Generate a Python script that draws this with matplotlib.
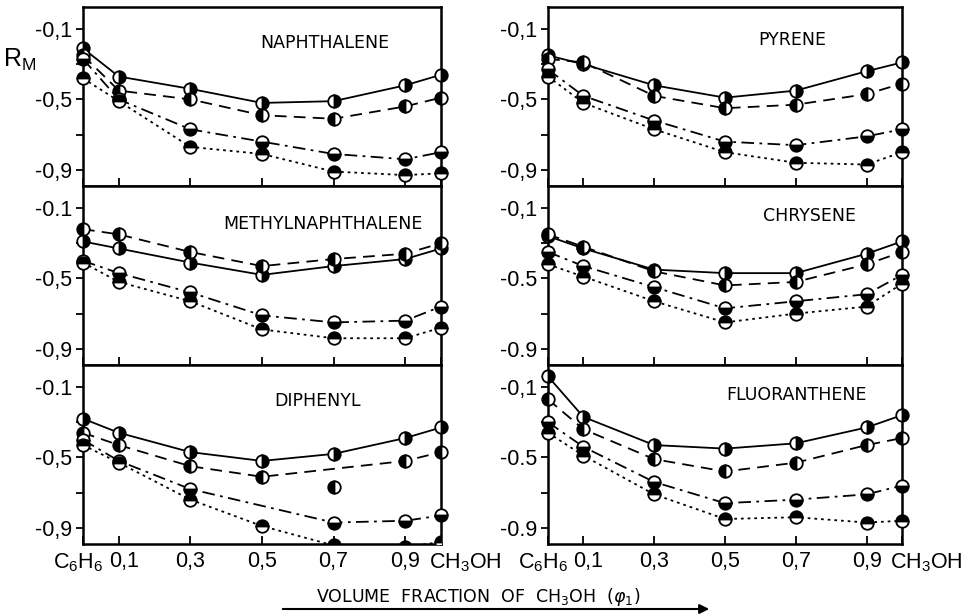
import numpy as np
import matplotlib.pyplot as plt
from matplotlib.patches import FancyArrowPatch
from matplotlib.transforms import ScaledTranslation

# volume fraction of CH3OH (x positions of the data points)
phi = [0.0, 0.1, 0.3, 0.5, 0.7, 0.9, 1.0]
x_labels = [r'$\mathregular{C_6H_6}$', '0,1', '0,3', '0,5', '0,7', '0,9',
            r'$\mathregular{CH_3OH}$']

# R_M values
# rows: solid, dashed, dash-dot, dotted curve
naphthalene = [[-0.21, -0.37, -0.44, -0.52, -0.51, -0.42, -0.36],
               [-0.25, -0.45, -0.50, -0.59, -0.61, -0.54, -0.49],
               [-0.27, -0.50, -0.67, -0.74, -0.81, -0.84, -0.80],
               [-0.38, -0.51, -0.77, -0.81, -0.91, -0.93, -0.92]]
methylnaphthalene = [[-0.29, -0.33, -0.41, -0.48, -0.43, -0.39, -0.33],
                     [-0.22, -0.25, -0.35, -0.43, -0.39, -0.36, -0.30],
                     [-0.40, -0.47, -0.58, -0.71, -0.75, -0.74, -0.66],
                     [-0.41, -0.52, -0.63, -0.79, -0.84, -0.84, -0.78]]
diphenyl = [[-0.28, -0.36, -0.47, -0.52, -0.48, -0.39, -0.33],
            [-0.36, -0.43, -0.55, -0.61, -0.67, -0.52, -0.47],
            [-0.40, -0.52, -0.68, np.nan, -0.87, -0.86, -0.83],
            [-0.43, -0.53, -0.74, -0.89, -1.00, -1.01, -0.98]]
pyrene = [[-0.25, -0.30, -0.42, -0.49, -0.45, -0.34, -0.29],
          [-0.27, -0.29, -0.48, -0.55, -0.53, -0.47, -0.41],
          [-0.33, -0.48, -0.62, -0.74, -0.76, -0.71, -0.67],
          [-0.37, -0.52, -0.67, -0.80, -0.86, -0.87, -0.80]]
chrysene = [[-0.26, -0.33, -0.45, -0.47, -0.47, -0.36, -0.29],
            [-0.25, -0.32, -0.46, -0.54, -0.52, -0.42, -0.35],
            [-0.35, -0.43, -0.55, -0.67, -0.63, -0.59, -0.48],
            [-0.42, -0.49, -0.63, -0.75, -0.70, -0.66, -0.53]]
fluoranthene = [[-0.04, -0.27, -0.43, -0.45, -0.42, -0.33, -0.26],
                [-0.17, -0.34, -0.51, -0.58, -0.53, -0.43, -0.39],
                [-0.30, -0.44, -0.64, -0.76, -0.74, -0.71, -0.66],
                [-0.36, -0.49, -0.71, -0.85, -0.84, -0.87, -0.86]]

# points that lie off their drawn curve (panel, curve, index)
off_curve = [('DIPHENYL', 1, 4)]

# y tick labels as printed in each panel
yt_naph = ['-0,1', '-0,5', '-0,9']
yt_meth = ['-0.1', '-0,5', '-0,9']
yt_diph = ['-0.1', '-0,5', '-0,9']
yt_pyr = ['-0,1', '-0,5', '-0,9']
yt_chry = ['-0,1', '-0.5', '-0.9']
yt_fluo = ['-0,1', '-0.5', '-0.9']

#%%
W, H = 973, 616
fig = plt.figure(figsize=(W / 100, H / 100), dpi=100)
tick_font = ['Liberation Sans', 'DejaVu Sans']

styles = [dict(ls='-'), dict(dashes=(6.5, 4)), dict(dashes=(7, 3, 1.5, 3)),
          dict(dashes=(1.5, 2.2))]
fills = ['right', 'left', 'bottom', 'top']

# panel layout in pixels: (name, data, ylabels, left, width, top, title x, title y)
panels = [('NAPHTHALENE', naphthalene, yt_naph, 83, 358, 7, 0.676, 0.80),
          ('METHYLNAPHTHALENE', methylnaphthalene, yt_meth, 83, 358, 186, 0.670, 0.79),
          ('DIPHENYL', diphenyl, yt_diph, 83, 358, 365, 0.654, 0.80),
          ('PYRENE', pyrene, yt_pyr, 548, 354, 7, 0.689, 0.815),
          ('CHRYSENE', chrysene, yt_chry, 548, 354, 186, 0.740, 0.835),
          ('FLUORANTHENE', fluoranthene, yt_fluo, 548, 354, 365, 0.703, 0.83)]
ph = 179
ylo, yhi = -0.992, 0.025

x = np.array(phi)
for name, data, ylab, left, width, top, tx, ty in panels:
    ax = fig.add_axes([left / W, 1 - (top + ph) / H, width / W, ph / H])
    for k, vals in enumerate(data):
        y = np.array(vals, dtype=float)
        keep = ~np.isnan(y)
        for pn, ci, idx in off_curve:
            if pn == name and ci == k:
                keep[idx] = False
        ax.plot(x[keep], y[keep], color='black', lw=1.3, **styles[k])
        # points sitting on the bottom frame are cut by it, the rest overhang the frame
        low = y < ylo + 0.05
        for sel, clip in ((~low, False), (low, True)):
            ax.plot(x[sel], y[sel], ls='none', marker='o', ms=9, fillstyle=fills[k],
                    markerfacecolor='black', markerfacecoloralt='white',
                    markeredgecolor='black', mew=1.3, clip_on=clip, zorder=3)
    ax.set_xlim(0, 1)
    ax.set_ylim(ylo, yhi)
    for s in ax.spines.values():
        s.set_linewidth(1.8)
    ax.set_yticks([-0.1, -0.5, -0.9])
    ax.set_yticks([-0.3, -0.7], minor=True)
    ax.set_yticklabels(ylab, family=tick_font, fontsize=15.5)
    ax.tick_params(axis='y', which='both', direction='out', length=5, width=1.3, pad=3)
    ax.set_xticks(phi)
    ax.tick_params(axis='x', direction='in', length=6, width=1.3, pad=5)
    if top == 365:
        ax.set_xticklabels(x_labels, family=tick_font, fontsize=15.5)
        labs = ax.get_xticklabels()
        # nudge the end labels the way the printed figure has them
        labs[0].set_transform(labs[0].get_transform() +
                              ScaledTranslation(-0.05, 0, fig.dpi_scale_trans))
        labs[1].set_transform(labs[1].get_transform() +
                              ScaledTranslation(0.05, 0, fig.dpi_scale_trans))
        labs[-1].set_ha('left')
        labs[-1].set_transform(labs[-1].get_transform() +
                               ScaledTranslation(-0.12, 0, fig.dpi_scale_trans))
    else:
        ax.set_xticklabels([])
    ax.text(tx, ty, name, transform=ax.transAxes, ha='center', va='center',
            fontsize=12.5)

# axis labels
fig.text(20 / W, 1 - 60 / H, r'$\mathregular{R_M}$', fontsize=18,
         family=tick_font, ha='center', va='center')
fig.text(478 / W, 1 - 597 / H, r'VOLUME  FRACTION  OF  CH$\mathregular{_3}$OH  ($\varphi_1$)',
         fontsize=12.5, ha='center', va='center')
fig.add_artist(FancyArrowPatch((280 / W, 1 - 609 / H), (712 / W, 1 - 609 / H),
                               transform=fig.transFigure, arrowstyle='-|>',
                               mutation_scale=14, lw=1.5, color='black'))

plt.savefig('out.png', dpi=100)
